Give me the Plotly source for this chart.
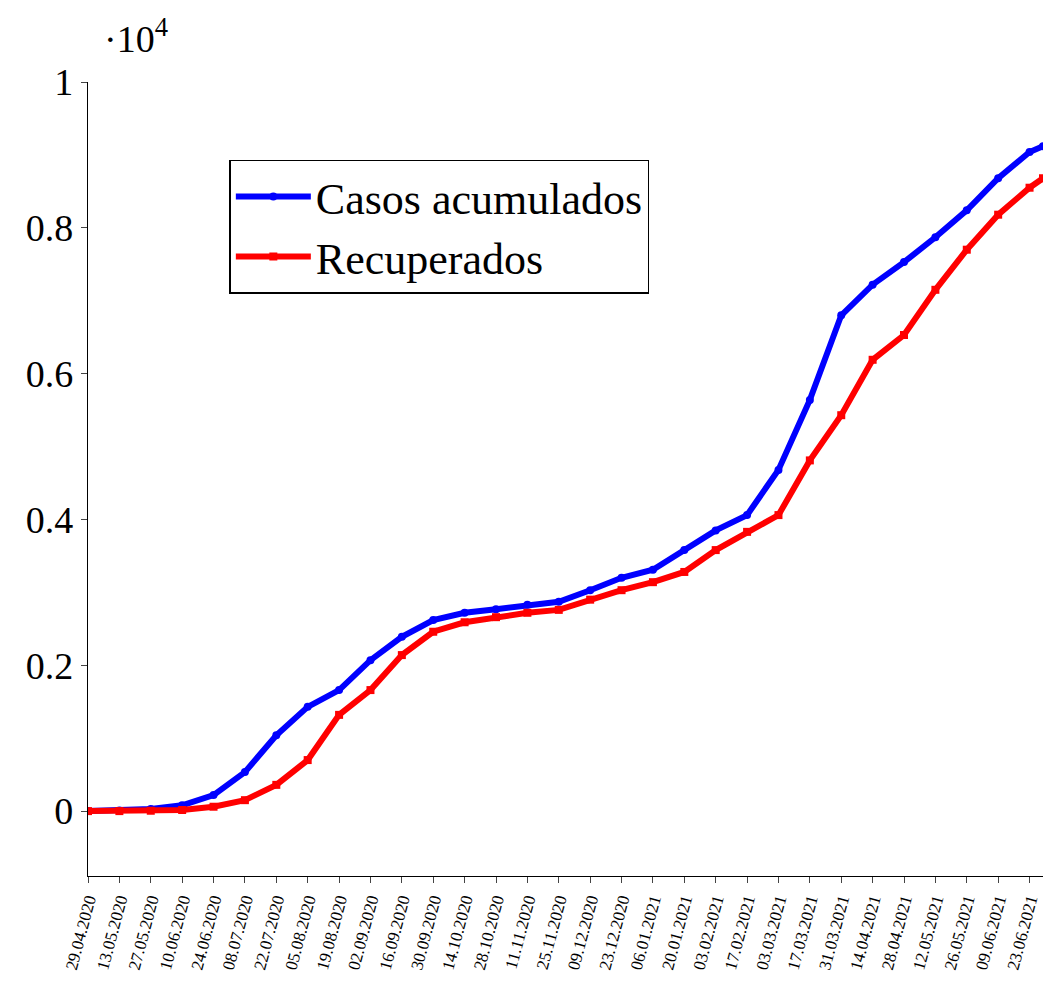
import pandas as pd
import plotly.graph_objects as go

# Values, one every 14 days from 29.04.2020, then the last day
dates = list(pd.date_range("2020-04-29", periods=31, freq="14D").strftime("%Y-%m-%d")) + ["2021-06-29"]
casos = [0, 10, 30, 80, 220, 535, 1040, 1430, 1660, 2070, 2390, 2620, 2720, 2770, 2830, 2870,
         3030, 3200, 3310, 3580, 3850, 4060, 4680, 5640, 6800, 7220, 7530, 7870, 8240, 8680, 9040, 9120]
recuperados = [0, 0, 5, 15, 60, 150, 360, 700, 1320, 1660, 2140, 2460, 2590, 2660, 2720, 2760,
               2900, 3030, 3140, 3280, 3580, 3830, 4060, 4810, 5430, 6190, 6530, 7150, 7700, 8180, 8550, 8680]
tick_dates = list(pd.date_range("2020-04-29", periods=31, freq="14D"))
tick_text = [d.strftime("%d.%m.%Y") for d in tick_dates]

font = "Liberation Serif"
fig = go.Figure()
fig.add_trace(go.Scatter(x=dates, y=[v / 1e4 for v in casos], name="Casos acumulados",
                         mode="lines+markers", line=dict(color="#0000ff", width=6),
                         marker=dict(symbol="circle", size=8, color="#0000ff")))
fig.add_trace(go.Scatter(x=dates, y=[v / 1e4 for v in recuperados], name="Recuperados",
                         mode="lines+markers", line=dict(color="#ff0000", width=6),
                         marker=dict(symbol="square", size=8, color="#ff0000")))

# the page adds an 8px body margin, so margins are trimmed to compensate
fig.update_layout(
    width=1051, height=999, plot_bgcolor="white", paper_bgcolor="white",
    margin=dict(l=80, r=16, t=74, b=131),
    font=dict(family=font, color="black", size=38),
    legend=dict(x=0.148, y=0.902, xanchor="left", yanchor="top", bgcolor="white",
                bordercolor="black", borderwidth=1.5, font=dict(size=44), itemwidth=75),
    showlegend=True,
)
fig.update_xaxes(type="date", range=["2020-04-29", "2021-06-29"], tickvals=tick_dates, ticktext=tick_text,
                 tickangle=-75, tickfont=dict(size=17), ticks="outside", ticklen=6, showgrid=False,
                 showline=True, linecolor="black", linewidth=1.2, zeroline=False, automargin=False)
fig.update_yaxes(range=[-0.089, 1.0], tickvals=[0, 0.2, 0.4, 0.6, 0.8, 1],
                 ticktext=["0", "0.2", "0.4", "0.6", "0.8", "1"], ticks="outside", ticklen=6,
                 showgrid=False, showline=True, linecolor="black", linewidth=1.2, zeroline=False,
                 automargin=False)
fig.add_annotation(text="·10<sup>4</sup>", xref="paper", yref="paper", x=0.015, y=1.025,
                   xanchor="left", yanchor="bottom", showarrow=False, font=dict(size=38))
fig.write_html("out.html")
